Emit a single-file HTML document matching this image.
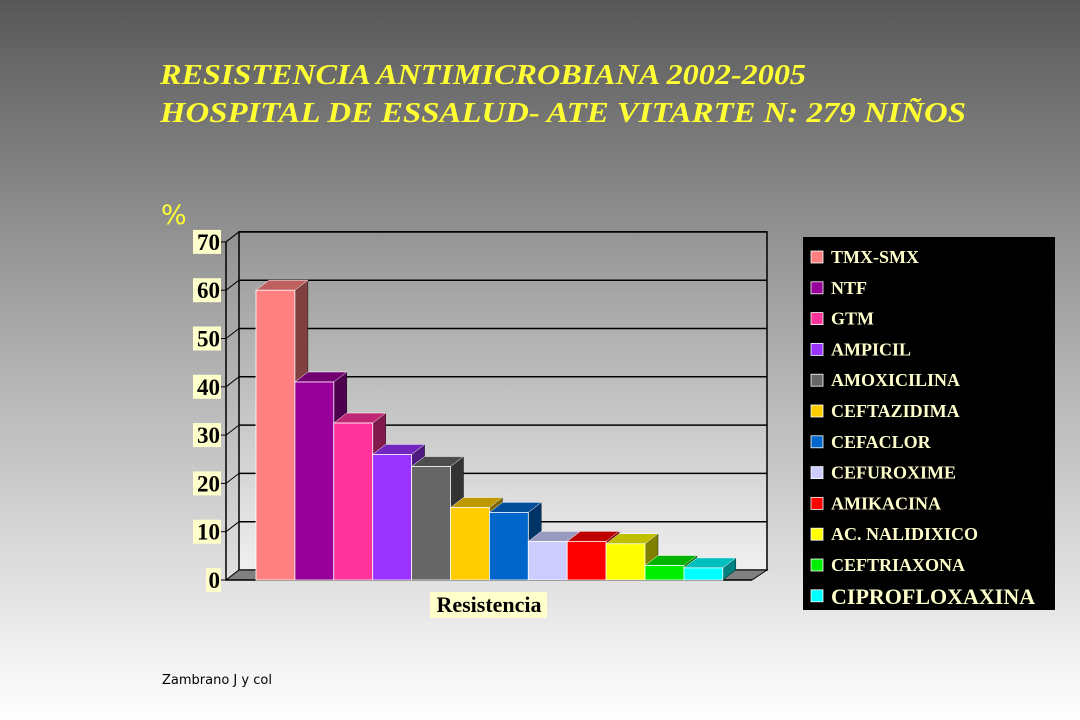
<!DOCTYPE html>
<html><head><meta charset="utf-8"><style>
html,body{margin:0;padding:0;width:1080px;height:720px;overflow:hidden}
svg{display:block}
</style></head><body>
<svg id="chart" width="1080" height="720" viewBox="0 0 1080 720" xmlns="http://www.w3.org/2000/svg">
<defs>
<linearGradient id="bg" x1="0" y1="0" x2="0" y2="1">
<stop offset="0" stop-color="#585858"/><stop offset="0.45" stop-color="#a8a8a8"/><stop offset="1" stop-color="#ffffff"/>
</linearGradient>
<linearGradient id="wall" x1="0" y1="0" x2="0" y2="1">
<stop offset="0" stop-color="#959595"/><stop offset="1" stop-color="#f0f0f0"/>
</linearGradient>
</defs>
<rect x="0" y="0" width="1080" height="720" fill="url(#bg)"/>
<g font-family="Liberation Serif, serif" font-weight="bold" font-style="italic" font-size="29" fill="#ffff33">
<text x="160" y="84" textLength="646" lengthAdjust="spacingAndGlyphs">RESISTENCIA ANTIMICROBIANA 2002-2005</text>
<text x="160" y="122" textLength="806" lengthAdjust="spacingAndGlyphs">HOSPITAL DE ESSALUD- ATE VITARTE   N: 279 NIÑOS</text>
</g>
<text x="161" y="224" font-family="DejaVu Sans, sans-serif" font-size="27" fill="#ffff33">%</text>
<g id="plot"></g>
<g id="legend"></g>
<text x="162" y="684" font-family="DejaVu Sans, sans-serif" font-size="13" fill="#000">Zambrano J y col</text>
</svg>
<script>
const categories=["TMX-SMX","NTF","GTM","AMPICIL","AMOXICILINA","CEFTAZIDIMA","CEFACLOR","CEFUROXIME","AMIKACINA","AC. NALIDIXICO","CEFTRIAXONA","CIPROFLOXAXINA"];
const values=[60,41,32.5,26,23.5,15,14,8,8,7.5,3,2.5];
const colors=["#ff8080","#990099","#ff3399","#9933ff","#666666","#ffcc00","#0066cc","#ccccff","#ff0000","#ffff00","#00ee00","#00ffff"];
const tickLabels=[0,10,20,30,40,50,60,70];

const NS="http://www.w3.org/2000/svg";
const X0=226,X1=752,Y0=580,PX=4.83,DX=13,DY=-10,YMAX=70;
function y(v){return Y0-v*PX;}
function mk(tag,attrs,parent){const e=document.createElementNS(NS,tag);for(const k in attrs)e.setAttribute(k,attrs[k]);parent.appendChild(e);return e;}
function shade(hex,f){const n=parseInt(hex.slice(1),16);const r=Math.round(((n>>16)&255)*f),g=Math.round(((n>>8)&255)*f),b=Math.round((n&255)*f);return `rgb(${r},${g},${b})`;}
const plot=document.getElementById('plot');
// back wall
const wall=mk('rect',{x:X0+DX,y:y(YMAX)+DY,width:X1-X0+2,height:Y0-y(YMAX),fill:'url(#wall)',stroke:'#000','stroke-width':1.5},plot);


// left side wall line
const lw=mk('polygon',{points:`${X0},${Y0} ${X0+DX},${Y0+DY} ${X0+DX},${y(YMAX)+DY} ${X0},${y(YMAX)}`,fill:'none',stroke:'#000','stroke-width':1},plot);


// floor
const fl=mk('polygon',{points:`${X0},${Y0} ${X0+DX},${Y0+DY} ${X1+DX+2},${Y0+DY} ${X1},${Y0}`,fill:'#808080',stroke:'#000','stroke-width':1},plot);


// gridlines & ticks
tickLabels.forEach(t=>{
  if(t>0){const g=mk('line',{x1:X0+DX,y1:y(t)+DY,x2:X1+DX+2,y2:y(t)+DY,stroke:'#000','stroke-width':1.5},plot);
  
  
  const d=mk('line',{x1:X0,y1:y(t),x2:X0+DX,y2:y(t)+DY,stroke:'#000','stroke-width':1},plot);
  
  }
  const tk=mk('line',{x1:X0-5,y1:y(t),x2:X0,y2:y(t),stroke:'#000'},plot);
  
  
  const w=t===0?13:26;
  const bg=mk('rect',{x:X0-7-w,y:y(t)-12,width:w+2,height:24,fill:'#ffffcc'},plot);
  
  
  const tx=mk('text',{x:X0-6,y:y(t)+8,'text-anchor':'end','font-family':'Liberation Serif, serif','font-weight':'bold','font-size':23,fill:'#000'},plot);
  tx.textContent=t;
  
  
});
// axes
mk('line',{x1:X0,y1:Y0,x2:X0,y2:y(YMAX),stroke:'#000','stroke-width':1.5},plot);
mk('line',{x1:X0,y1:Y0,x2:X1,y2:Y0,stroke:'#000','stroke-width':1.5},plot);
// bars
const BX0=256,BW=38.9;
values.forEach((v,i)=>{
  const g=mk('g',{},plot);
  
  
  const x=BX0+i*BW,top=y(v),c=colors[i];
  mk('polygon',{points:`${x+BW},${Y0} ${x+BW+DX},${Y0+DY} ${x+BW+DX},${top+DY} ${x+BW},${top}`,fill:shade(c,0.5),stroke:'#000','stroke-width':0.4},g);
  mk('polygon',{points:`${x},${top} ${x+DX},${top+DY} ${x+BW+DX},${top+DY} ${x+BW},${top}`,fill:shade(c,0.75),stroke:'#fff','stroke-width':0.5},g);
  mk('rect',{x:x,y:top,width:BW,height:Y0-top,fill:c,stroke:'#fff','stroke-width':0.8},g);
});
// x label
const xb=mk('rect',{x:430,y:592,width:117,height:26,fill:'#ffffcc'},plot);


const xl=mk('text',{x:489,y:612,'text-anchor':'middle','font-family':'Liberation Serif, serif','font-weight':'bold','font-size':22,fill:'#000'},plot);
xl.textContent='Resistencia';


// legend
const lg=document.getElementById('legend');
mk('rect',{x:803,y:237,width:252,height:373,fill:'#000'},lg);
categories.forEach((c,i)=>{
  const yy=257+i*30.8;
  const it=mk('g',{},lg);
  
  
  mk('rect',{x:811,y:yy-6,width:12,height:12,fill:colors[i],stroke:'#fff','stroke-width':0.8},it);
  const last=i===categories.length-1;
  const t=mk('text',{x:831,y:yy+(last?8:6),'font-family':'Liberation Serif, serif','font-weight':'bold','font-size':last?22:18,fill:'#ffffcc'},it);
  t.textContent=c;
});
</script>
</body></html>
